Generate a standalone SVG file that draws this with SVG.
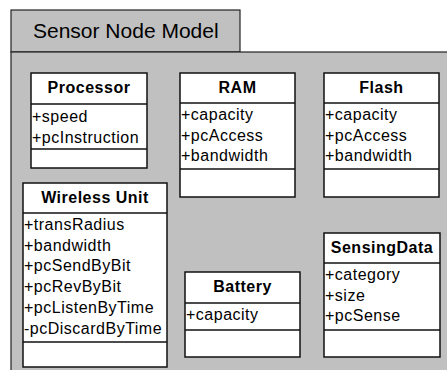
<svg xmlns="http://www.w3.org/2000/svg" width="447" height="370" viewBox="0 0 447 370">
<style>
.pkg{fill:#c0c0c0;stroke:#222;stroke-width:1.2}
.box{fill:#fff;stroke:#111;stroke-width:1.5}
.sep{stroke:#111;stroke-width:1.5}
.hd{font-family:"Liberation Sans",Arial,sans-serif;font-weight:bold;font-size:16px;letter-spacing:0.5px;fill:#000;text-anchor:middle}
.at{font-family:"Liberation Sans",Arial,sans-serif;font-size:16px;letter-spacing:0.5px;fill:#000}
.tt{font-family:"Liberation Sans",Arial,sans-serif;font-size:21px;fill:#000}
</style>
<rect width="447" height="370" fill="#fff"/>
<g id="package">
<rect class="pkg" x="11" y="10" width="229" height="42"/>
<rect class="pkg" x="11" y="52" width="450" height="330"/>
<text class="tt" x="33" y="38">Sensor Node Model</text>
</g>
<g id="processor">
<rect class="box" x="31" y="73" width="116" height="95"/>
<line class="sep" x1="31" y1="104" x2="147" y2="104"/>
<line class="sep" x1="31" y1="149" x2="147" y2="149"/>
<text class="hd" x="89" y="93">Processor</text>
<text class="at" x="32" y="122">+speed</text>
<text class="at" x="32" y="142.5">+pcInstruction</text>
</g>
<g id="ram">
<rect class="box" x="180" y="73" width="115" height="124"/>
<line class="sep" x1="180" y1="103" x2="295" y2="103"/>
<line class="sep" x1="180" y1="169" x2="295" y2="169"/>
<text class="hd" x="237.5" y="93">RAM</text>
<text class="at" x="181" y="120">+capacity</text>
<text class="at" x="181" y="140.5">+pcAccess</text>
<text class="at" x="181" y="161">+bandwidth</text>
</g>
<g id="flash">
<rect class="box" x="324" y="73" width="115" height="124"/>
<line class="sep" x1="324" y1="103" x2="439" y2="103"/>
<line class="sep" x1="324" y1="169" x2="439" y2="169"/>
<text class="hd" x="381.5" y="93">Flash</text>
<text class="at" x="325" y="120">+capacity</text>
<text class="at" x="325" y="140.5">+pcAccess</text>
<text class="at" x="325" y="161">+bandwidth</text>
</g>
<g id="wireless-unit">
<rect class="box" x="23" y="183" width="144" height="184"/>
<line class="sep" x1="23" y1="213" x2="167" y2="213"/>
<line class="sep" x1="23" y1="342" x2="167" y2="342"/>
<text class="hd" x="95" y="203">Wireless Unit</text>
<text class="at" x="24" y="230">+transRadius</text>
<text class="at" x="24" y="250.7">+bandwidth</text>
<text class="at" x="24" y="271.4">+pcSendByBit</text>
<text class="at" x="24" y="292">+pcRevByBit</text>
<text class="at" x="24" y="312.8">+pcListenByTime</text>
<text class="at" x="24" y="333.5">-pcDiscardByTime</text>
</g>
<g id="battery">
<rect class="box" x="185" y="272" width="115" height="85"/>
<line class="sep" x1="185" y1="303" x2="300" y2="303"/>
<line class="sep" x1="185" y1="330" x2="300" y2="330"/>
<text class="hd" x="242.5" y="292">Battery</text>
<text class="at" x="186" y="320">+capacity</text>
</g>
<g id="sensing-data">
<rect class="box" x="324" y="233" width="116" height="124"/>
<line class="sep" x1="324" y1="263" x2="440" y2="263"/>
<line class="sep" x1="324" y1="330" x2="440" y2="330"/>
<text class="hd" x="382" y="253">SensingData</text>
<text class="at" x="325" y="280">+category</text>
<text class="at" x="325" y="300.5">+size</text>
<text class="at" x="325" y="321">+pcSense</text>
</g>
<g id="connectors"/>
</svg>
